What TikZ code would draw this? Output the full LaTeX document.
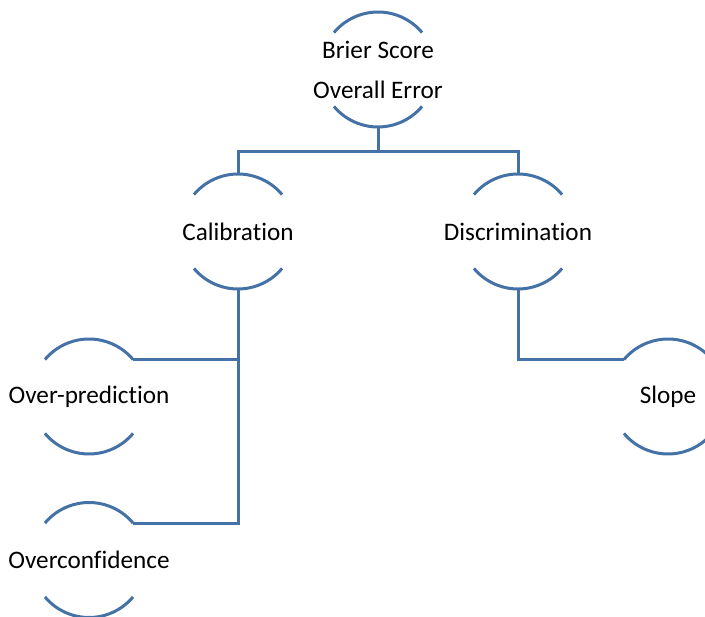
\documentclass[tikz,border=0pt]{standalone}
\usepackage{fontspec}
\setmainfont[Ligatures=NoCommon]{Carlito}
\definecolor{linec}{RGB}{68,114,166}
\newcommand{\nodearcs}[1]{%
  \draw[arcline] (#1.40) arc[start angle=40,end angle=140,radius=57.5pt];
  \draw[arcline] (#1.220) arc[start angle=220,end angle=320,radius=57.5pt];}
\begin{document}
\begin{tikzpicture}[x=1pt,y=1pt,
  circ/.style={circle,minimum size=115pt,inner sep=0pt,outer sep=0pt,draw=none,
    label={[font=\fontsize{25.2}{40}\selectfont,align=center,text=black]center:#1}},
  arcline/.style={draw=linec,line width=3pt},
  conn/.style={draw=linec,line width=3pt}]
\useasboundingbox (0,0) rectangle (705,-617);
\node[circ={Brier Score\\Overall Error}] (b) at (378,-69.5) {};
\node[circ={Calibration}] (cal) at (238,-231.5) {};
\node[circ={Discrimination}] (dis) at (518,-231.5) {};
\node[circ={Over-prediction}] (op) at (89,-396.5) {};
\node[circ={Overconfidence}] (oc) at (89,-560) {};
\node[circ={Slope}] (sl) at (668,-396.5) {};
\foreach \n in {b,cal,dis,op,oc,sl} {\nodearcs{\n}}
\coordinate (jb) at (378,-152);
\draw[conn] (b.south) -- (jb);
\draw[conn] (cal.north) |- (jb) -| (dis.north);
\draw[conn] (op.40) -| (cal.south);
\draw[conn] (oc.40) -| (cal.south);
\draw[conn] (dis.south) |- (sl.140);
\end{tikzpicture}
\end{document}
